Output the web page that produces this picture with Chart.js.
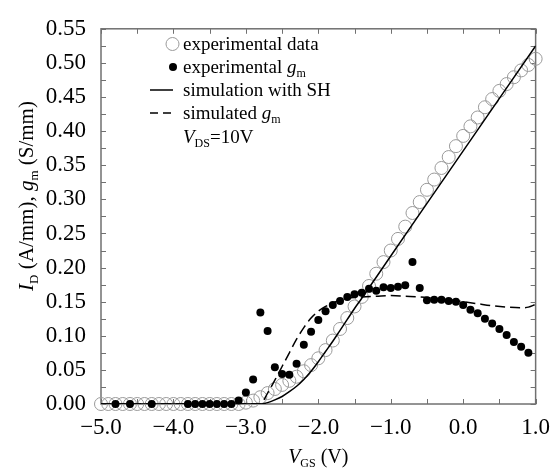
<!DOCTYPE html>
<html><head><meta charset="utf-8">
<script src="https://cdn.jsdelivr.net/npm/chart.js@4.4.0/dist/chart.umd.min.js"></script>
<style>html,body{margin:0;padding:0;background:#fff}</style>
</head><body>
<canvas id="c" width="560" height="475"></canvas>
<script>
// ---- data ----
const vgsExp = [-5.0,-4.9,-4.8,-4.7,-4.6,-4.5,-4.4,-4.3,-4.2,-4.1,-4.0,-3.9,-3.8,-3.7,-3.6,-3.5,-3.4,-3.3,-3.2,-3.1,
  -3.0,-2.9,-2.8,-2.7,-2.6,-2.5,-2.4,-2.3,-2.2,-2.1,-2.0,-1.9,-1.8,-1.7,-1.6,-1.5,-1.4,-1.3,-1.2,-1.1,
  -1.0,-0.9,-0.8,-0.7,-0.6,-0.5,-0.4,-0.3,-0.2,-0.1,0.0,0.1,0.2,0.3,0.4,0.5,0.6,0.7,0.8,0.9,1.0];
const idExp = [0,0,0,0,0,0,0,0,0,0,0,0,0,0,0,0,0,0,0,0,
  0.002,0.005,0.010,0.016,0.022,0.028,0.034,0.040,0.048,0.057,0.067,0.079,0.093,0.110,0.126,0.143,0.157,0.173,0.191,0.208,
  0.225,0.242,0.260,0.280,0.296,0.314,0.329,0.346,0.362,0.378,0.393,0.407,0.420,0.435,0.447,0.459,0.469,0.479,0.489,0.497,0.506];

const vgsGm = [-4.8,-4.6,-4.3,-3.8,-3.7,-3.6,-3.5,-3.4,-3.3,-3.2,-3.1,-3.0,-2.9,-2.8,-2.7,-2.6,-2.5,-2.4,-2.3,-2.2,
  -2.1,-2.0,-1.9,-1.8,-1.7,-1.6,-1.5,-1.4,-1.3,-1.2,-1.1,-1.0,-0.9,-0.8,-0.7,-0.6,-0.5,-0.4,-0.3,-0.2,
  -0.1,0.0,0.1,0.2,0.3,0.4,0.5,0.6,0.7,0.8,0.9];
const gmExp = [0,0,0,0,0,0,0,0,0,0,0.005,0.017,0.036,0.134,0.107,0.054,0.044,0.043,0.059,0.087,
  0.106,0.123,0.136,0.145,0.151,0.157,0.161,0.163,0.169,0.166,0.171,0.170,0.172,0.174,0.208,0.170,0.152,0.153,0.153,0.151,
  0.150,0.145,0.138,0.133,0.125,0.118,0.110,0.101,0.091,0.084,0.075];

const vgsSim = [-5.0,-2.8,-2.7,-2.6,-2.5,-2.4,-2.3,-2.2,-2.1,-2.0,-1.9,-1.8,-1.7,-1.6,-1.5,-1.4,-1.0,-0.5,0.0,0.5,1.0];
const idSim  = [0,0,0.002,0.006,0.011,0.018,0.026,0.036,0.048,0.062,0.077,0.092,0.108,0.124,0.140,0.155,0.217,0.294,0.371,0.448,0.525];

const vgsSimGm = [-5.0,-2.8,-2.7,-2.6,-2.5,-2.4,-2.3,-2.2,-2.1,-2.0,-1.9,-1.8,-1.7,-1.6,-1.4,-1.2,-1.0,-0.8,-0.6,-0.4,-0.2,0.0,0.2,0.4,0.6,0.8,0.9,1.0];
const gmSim    = [0,0,0.016,0.035,0.055,0.075,0.095,0.112,0.126,0.136,0.143,0.148,0.152,0.155,0.157,0.158,0.159,0.158,0.157,0.155,0.153,0.150,0.147,0.144,0.142,0.141,0.142,0.146];

const legendLabels = ['experimental data','experimental g','simulation with SH','simulated g'];

// ---- helpers ----
const SERIF = '"Liberation Serif", "Times New Roman", serif';
function pts(xs, ys){ return xs.map((x,i)=>({x:x, y:ys[i]})); }
function drawRich(ctx, parts, x, y, size, align){
  const sub = Math.round(size*0.62);
  const fontOf = p => (p.italic?'italic ':'') + (p.sub?sub:size) + 'px ' + SERIF;
  let w = 0;
  parts.forEach(p=>{ ctx.font = fontOf(p); w += ctx.measureText(p.t).width; });
  let cx = align==='center' ? x - w/2 : x;
  ctx.textBaseline = 'alphabetic'; ctx.textAlign = 'left';
  parts.forEach(p=>{
    ctx.font = fontOf(p);
    ctx.fillText(p.t, cx, y + (p.sub ? size*0.22 : 0));
    cx += ctx.measureText(p.t).width;
  });
}

const framePlugin = {
  id:'frame',
  beforeDatasetsDraw(chart){
    const ctx = chart.ctx, a = chart.chartArea, xs = chart.scales.x, ys = chart.scales.y;
    ctx.save();
    ctx.strokeStyle = '#707070'; ctx.lineWidth = 1.5;
    ctx.strokeRect(a.left, a.top, a.right-a.left, a.bottom-a.top);
    ctx.lineWidth = 1;
    ctx.beginPath();
    xs.ticks.forEach(t=>{
      const px = Math.round(xs.getPixelForValue(t.value))+0.5;
      ctx.moveTo(px, a.bottom); ctx.lineTo(px, a.bottom-5);
      ctx.moveTo(px, a.top); ctx.lineTo(px, a.top+5);
    });
    ys.ticks.forEach(t=>{
      const py = Math.round(ys.getPixelForValue(t.value))+0.5;
      ctx.moveTo(a.left, py); ctx.lineTo(a.left+5, py);
      ctx.moveTo(a.right, py); ctx.lineTo(a.right-5, py);
    });
    ctx.stroke();
    ctx.restore();
  },
  afterDraw(chart){
    const ctx = chart.ctx, a = chart.chartArea;
    ctx.save();
    ctx.fillStyle = '#000';
    // axis titles
    drawRich(ctx, [{t:'V',italic:true},{t:'GS',sub:true},{t:' (V)'}], (a.left+a.right)/2, 463, 20, 'center');
    ctx.save();
    ctx.translate(33, 196);
    ctx.rotate(-Math.PI/2);
    drawRich(ctx, [{t:'I',italic:true},{t:'D',sub:true},{t:' (A/mm), '},{t:'g',italic:true},{t:'m',sub:true},{t:' (S/mm)'}], 0, 0, 21, 'center');
    ctx.restore();
    // legend
    const lx = 183, fs = 19;
    const rows = [44, 67, 90, 113, 137];
    ctx.strokeStyle = '#9a9a9a'; ctx.lineWidth = 1;
    ctx.beginPath(); ctx.arc(172.5, rows[0], 6.5, 0, Math.PI*2); ctx.stroke();
    ctx.fillStyle = '#000';
    ctx.beginPath(); ctx.arc(173, rows[1], 4, 0, Math.PI*2); ctx.fill();
    ctx.strokeStyle = '#000'; ctx.lineWidth = 1.5;
    ctx.beginPath(); ctx.moveTo(150, rows[2]); ctx.lineTo(173, rows[2]); ctx.stroke();
    ctx.setLineDash([8,5]);
    ctx.beginPath(); ctx.moveTo(150, rows[3]); ctx.lineTo(173, rows[3]); ctx.stroke();
    ctx.setLineDash([]);
    const off = 6;
    drawRich(ctx, [{t:legendLabels[0]}], lx, rows[0]+off, fs, 'left');
    drawRich(ctx, [{t:'experimental '},{t:'g',italic:true},{t:'m',sub:true}], lx, rows[1]+off, fs, 'left');
    drawRich(ctx, [{t:legendLabels[2]}], lx, rows[2]+off, fs, 'left');
    drawRich(ctx, [{t:'simulated '},{t:'g',italic:true},{t:'m',sub:true}], lx, rows[3]+off, fs, 'left');
    drawRich(ctx, [{t:'V',italic:true},{t:'DS',sub:true},{t:'=10V'}], lx, rows[4]+off, fs, 'left');
    ctx.restore();
  }
};

function fmtX(v){
  if (Math.abs(v - Math.round(v)) > 1e-6) return '';
  const r = Math.round(v);
  return r < 0 ? '\u2212' + Math.abs(r).toFixed(1) : r.toFixed(1);
}
function fmtY(v){
  const k = Math.round(v/0.025);
  return k % 2 === 0 ? (k*0.025).toFixed(2) : '';
}

new Chart(document.getElementById('c'), {
  type:'scatter',
  data:{ datasets:[
    { label:legendLabels[0], data:pts(vgsExp,idExp), pointRadius:6.5, pointHoverRadius:6.5,
      pointBorderColor:'#9a9a9a', pointBackgroundColor:'rgba(255,255,255,0)', pointBorderWidth:1,
      showLine:false, clip:false, order:4 },
    { label:legendLabels[1], data:pts(vgsGm,gmExp), pointRadius:4, pointHoverRadius:4,
      pointBorderColor:'#000', pointBackgroundColor:'#000', pointBorderWidth:0,
      showLine:false, clip:false, order:3 },
    { label:legendLabels[2], data:pts(vgsSim,idSim), showLine:true, borderColor:'#000', borderWidth:1.5,
      pointRadius:0, fill:false, cubicInterpolationMode:'monotone', order:1 },
    { label:legendLabels[3], data:pts(vgsSimGm,gmSim), showLine:true, borderColor:'#000', borderWidth:1.5,
      borderDash:[10,5], pointRadius:0, fill:false, cubicInterpolationMode:'monotone', order:2 }
  ]},
  options:{
    responsive:false, animation:false, devicePixelRatio:1,
    layout:{ padding:{ left:0, right:15, top:16, bottom:0 } },
    plugins:{ legend:{display:false}, tooltip:{enabled:false} },
    scales:{
      x:{ type:'linear', min:-5, max:1,
        grid:{ display:false, drawTicks:false }, border:{ display:false },
        ticks:{ stepSize:0.5, autoSkip:false, maxRotation:0, padding:10, color:'#000',
          font:{ family:SERIF, size:23 }, callback:fmtX },
        afterFit(s){ s.height = 71; } },
      y:{ type:'linear', min:0, max:0.55,
        grid:{ display:false, drawTicks:false }, border:{ display:false },
        ticks:{ stepSize:0.025, autoSkip:false, padding:15, color:'#000',
          font:{ family:SERIF, size:23 }, callback:fmtY },
        afterFit(s){ s.width = 101; } }
    }
  },
  plugins:[framePlugin]
});
</script>
</body></html>
